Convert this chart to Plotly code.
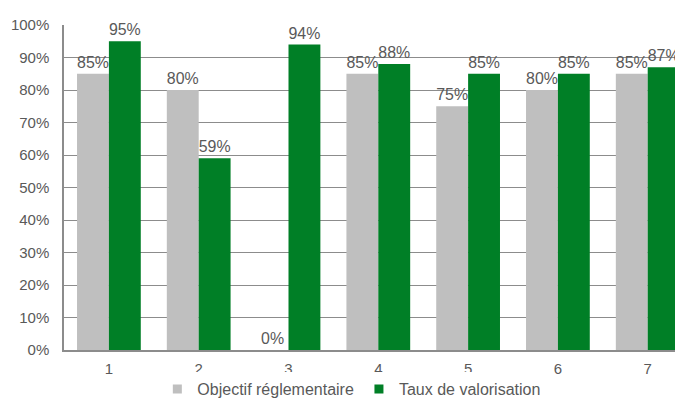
import plotly.graph_objects as go

categories = ['1', '2', '3', '4', '5', '6', '7']
objectif = [85, 80, 0, 85, 75, 80, 85]
taux = [95, 59, 94, 88, 85, 85, 87]
series_names = ['Objectif réglementaire', 'Taux de valorisation']
series_colors = ['#bfbfbf', '#007f26']
y_ticks = list(range(0, 101, 10))
y_labels = [f"{v}%" for v in y_ticks]

font_txt = dict(family="Liberation Sans, Arial", size=15, color='#595959')
font_lbl = dict(family="Liberation Sans, Arial", size=16, color='#595959')

fig = go.Figure()
for name, vals, col in zip(series_names, [objectif, taux], series_colors):
    fig.add_trace(go.Bar(x=categories, y=vals, name=name, showlegend=False,
                         marker=dict(color=col, line=dict(width=0)),
                         text=[f"{v}%" for v in vals], textposition='outside',
                         textfont=font_lbl, cliponaxis=False))
# small square legend keys like the original
for name, col in zip(series_names, series_colors):
    fig.add_trace(go.Scatter(x=[None], y=[None], mode='markers', name=name,
                             marker=dict(symbol='square', size=9, color=col)))

# page has an 8px body margin -> figure sized to fit the window exactly,
# margins fixed so the legend can't push the plot area around
fig.update_layout(
    width=675, height=390, autosize=False,
    margin=dict(l=56, r=0, t=17, b=48, autoexpand=False),
    plot_bgcolor='white', paper_bgcolor='white',
    barmode='group', bargap=0.29, bargroupgap=0,
    font=font_txt,
    showlegend=True,
    legend=dict(orientation='h', x=0.465, xanchor='center', y=-0.068, yanchor='top',
                font=dict(family="Liberation Sans, Arial", size=16, color='#595959'),
                itemwidth=30, traceorder='normal', tracegroupgap=0, borderwidth=0),
    uniformtext=dict(minsize=15, mode='show'),
)
fig.update_xaxes(type='category', range=[-0.5, 6.393], showline=True, linecolor='#8c8c8c',
                 linewidth=1.5, ticks='', tickfont=font_txt, showgrid=False,
                 ticklabelstandoff=4)
fig.update_yaxes(range=[0, 100], tickvals=y_ticks, ticktext=y_labels, showgrid=True,
                 gridcolor='#8c8c8c', gridwidth=1.2, showline=True, linecolor='#8c8c8c',
                 linewidth=1.5, zeroline=False, ticks='', tickfont=font_txt, ticklabelstandoff=10)

fig.write_html("out.html")
